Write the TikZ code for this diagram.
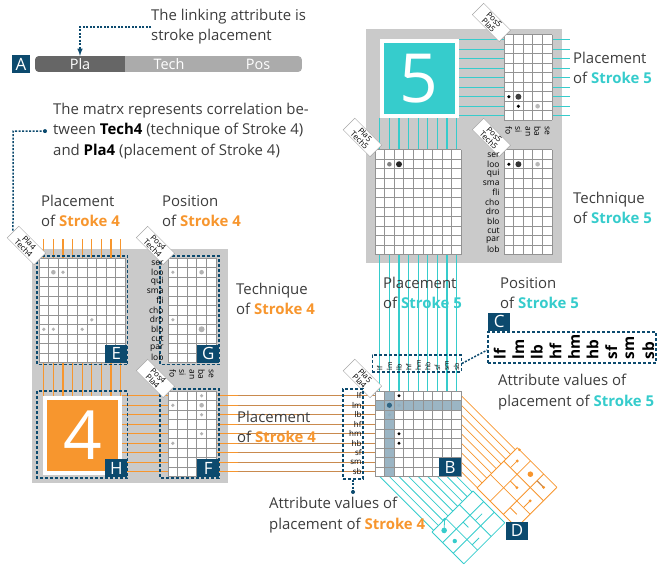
\documentclass[tikz,border=0pt]{standalone}
\usepackage{fontspec}
\setmainfont{Open Sans}
\usetikzlibrary{calc}

\definecolor{strokeorange}{HTML}{F7962E}
\definecolor{stroketeal}{HTML}{36CCCC}
\definecolor{labelnavy}{HTML}{0C4A6E}
\definecolor{panelgray}{HTML}{CACACA}
\definecolor{captiongray}{HTML}{3C3C3C}
\definecolor{linkbrown}{HTML}{C98A4E}
\definecolor{bandblue}{HTML}{9BB5C4}
\definecolor{bardark}{HTML}{666666}
\definecolor{barlight}{HTML}{ABABAB}

\def\cellw{9.6}
\def\cellh{9.5}
\def\techvals{ser,loo,qui,sma,fli,cho,dro,blo,cut,par,lob}
\def\posvals{fo,si,an,ba,se}
\def\plavals{lf,lm,lb,hf,hm,hb,sf,sm,sb}

\newcommand{\sfour}{\textcolor{strokeorange}{\textbf{Stroke 4}}}
\newcommand{\sfive}{\textcolor{stroketeal}{\textbf{Stroke 5}}}

% white cells, grid lines, one dot in a cell
\newcommand{\gridfill}[4]{\fill[white] (#1,#2) rectangle ++({#3*\cellw},{#4*\cellh});}
\newcommand{\gridlines}[4]{%
  \foreach \gi in {0,...,#3} \draw[gridline] ({#1+\gi*\cellw},#2) -- ++(0,{#4*\cellh});
  \foreach \gj in {0,...,#4} \draw[gridline] (#1,{#2+\gj*\cellh}) -- ++({#3*\cellw},0);}
\newcommand{\celldot}[6]{\fill[#5] ({#1+(#3-0.5)*\cellw},{#2+(#4-0.5)*\cellh}) circle[radius=#6bp];}

\begin{document}
\begin{tikzpicture}[x=1bp,y=-1bp,
    gridline/.style={draw=gray!85, line width=1bp},
    oline/.style={draw=strokeorange, line width=1.3bp},
    bline/.style={draw=linkbrown, line width=1bp},
    tline/.style={draw=stroketeal, line width=1.3bp},
    tagbox/.style={draw=gray!70, fill=white, rotate=-45, anchor=east, align=center,
      font=\fontsize{8}{8}\selectfont, inner sep=1.2bp, minimum width=38bp},
    letterbox/.style={fill=labelnavy, text=white, font=\fontsize{17}{17}\selectfont,
      minimum width=22bp, minimum height=18bp, inner sep=0pt},
    dbox/.style={draw=labelnavy, dash pattern=on 3bp off 2bp, line width=1.4bp, inner sep=0pt},
    leader/.style={draw=labelnavy, dash pattern=on 2bp off 1.5bp, line width=1.5bp},
    caption/.style={anchor=north west, align=left, text=captiongray, inner sep=0pt,
      font=\fontsize{15}{20.5}\selectfont},
    rowlbl/.style={anchor=east, inner sep=0.3bp, font=\fontsize{8.5}{8.5}\selectfont},
    collbl/.style={anchor=west, inner sep=0.3bp, font=\fontsize{8.5}{8.5}\selectfont},
    bartxt/.style={text=white, minimum height=16bp, inner sep=0pt, font=\fontsize{14.5}{14.5}\selectfont},
    bigdigit/.style={draw=white, line width=4bp, text=white, minimum size=75bp,
      font=\fontsize{68}{68}\selectfont}]
\useasboundingbox (0,0) rectangle (657,571);

% panels
\fill[panelgray] (32,249) rectangle (228,483);
\fill[panelgray] (366,29) rectangle (562,263);

% attribute bar
\begin{scope}
  \clip[rounded corners=4bp] (35,56) rectangle (302,72);
  \fill[barlight] (35,56) rectangle (302,72);
  \fill[bardark] (35,56) rectangle (125,72);
\end{scope}
\node[bartxt] (pla) at (80,64) {Pla};
\node[bartxt] (tech) at (169,64) {Tech};
\node[bartxt] (pos) at (258,64) {Pos};
\node[letterbox, minimum width=18bp] (labA) at (21,64) {A};

% links of stroke 4
\foreach \k in {0,...,8}{
  \pgfmathsetmacro{\xx}{39+(\k+0.5)*\cellw}
  \draw[oline] (\xx,239) -- (\xx,258);
  \draw[oline] (\xx,362) -- (\xx,397);
  \pgfmathsetmacro{\yy}{391+(\k+0.5)*\cellh}
  \draw[oline] (122,\yy) -- (168,\yy);
  \draw[oline] (216,\yy) -- (238,\yy);
  \draw[bline] (238,\yy) -- (375,\yy);
  \pgfmathsetmacro{\tlen}{(965-461.4-\yy)/2}
  \draw[strokeorange, line width=0.8bp] (461.4,\yy) -- ++(\tlen,\tlen);
}

% links of stroke 5
\foreach \k in {0,...,8}{
  \pgfmathsetmacro{\yy}{35+(\k+0.5)*\cellh}
  \draw[tline] (459,\yy) -- (570,\yy);
  \pgfmathsetmacro{\xx}{375+(\k+0.5)*\cellw}
  \draw[tline] (\xx,118) -- (\xx,150);
  \draw[tline] (\xx,254) -- (\xx,391);
  \pgfmathsetmacro{\tlen}{(964-476.5-\xx)/2}
  \draw[stroketeal, line width=0.8bp] (\xx,476.5) -- ++(\tlen,\tlen);
}

% D: projected grids
\begin{scope}[shift={(477,488)}, x={(0.7071bp,0.7071bp)}, y={(0.7071bp,-0.7071bp)}]
  \foreach \a in {0,19,38,57} \draw[strokeorange, line width=0.8bp] (\a,0) -- (\a,56);
  \foreach \b in {0,18.67,37.33,56} \draw[strokeorange, line width=0.8bp] (0,\b) -- (57,\b);
  \draw[strokeorange, line width=0.8bp] (47.5,9.3) -- (38,9.3) (28.5,28) -- (28.5,18.67)
    (9.5,46.7) -- (9.5,37.33) (28.5,46.7) -- (19,46.7);
  \draw[linkbrown, line width=1.2bp] (47.5,46.7) -- (47.5,37.33);
  \fill[strokeorange] (47.5,9.3) circle[radius=1.6bp] (47.5,28) circle[radius=2.8bp]
    (28.5,28) circle[radius=1.6bp] (47.5,46.7) circle[radius=1.6bp]
    (28.5,46.7) circle[radius=1.6bp] (57,3) circle[radius=1.4bp];
\end{scope}
\begin{scope}[shift={(432,532)}, x={(0.7071bp,0.7071bp)}, y={(0.7071bp,-0.7071bp)}]
  \foreach \a in {0,19.33,38.67,58} \draw[stroketeal, line width=0.8bp] (\a,0) -- (\a,45);
  \foreach \b in {0,15,30,45} \draw[stroketeal, line width=0.8bp] (0,\b) -- (58,\b);
  \draw[stroketeal, line width=0.8bp] (9.7,7.5) -- (17.7,0) (29,22.5) -- (29,15)
    (48.3,22.5) -- (38.67,22.5) (29,37.5) -- (19.33,37.5);
  \fill[stroketeal] (9.7,7.5) circle[radius=2.8bp] (9.7,22.5) circle[radius=2.2bp]
    (17.7,0) circle[radius=1.6bp];
\end{scope}
\node[letterbox] (labD) at (517,530.5) {D};

% stroke squares
\node[bigdigit, fill=stroketeal] (sq5) at (419,79) {5};
\node[bigdigit, fill=strokeorange] (sq4) at (82.5,435) {4};

% stroke 5 matrices
\gridfill{375}{150}{9}{11}
\gridlines{375}{150}{9}{11}
\celldot{375}{150}{2}{2}{gray}{2.3}
\celldot{375}{150}{3}{2}{black!85}{3}
\gridfill{504}{35}{5}{9}
\gridlines{504}{35}{5}{9}
\celldot{504}{35}{1}{7}{black}{1.7}
\celldot{504}{35}{2}{7}{black!75}{3}
\celldot{504}{35}{2}{8}{black}{1.7}
\celldot{504}{35}{4}{8}{gray!55}{2.3}
\gridfill{504}{150}{5}{11}
\gridlines{504}{150}{5}{11}
\celldot{504}{150}{1}{2}{black}{1.7}
\celldot{504}{150}{2}{2}{black!80}{3}
\celldot{504}{150}{4}{2}{gray!55}{2.3}

% stroke 4 matrices
\gridfill{39}{258}{9}{11}
\gridlines{39}{258}{9}{11}
\celldot{39}{258}{2}{2}{gray!60}{2.3}
\celldot{39}{258}{3}{2}{gray!60}{1.8}
\celldot{39}{258}{6}{7}{gray!60}{1.8}
\celldot{39}{258}{1}{8}{gray!60}{1.8}
\celldot{39}{258}{2}{8}{gray!60}{1.8}
\celldot{39}{258}{5}{8}{gray!60}{1.8}
\gridfill{168}{258}{5}{11}
\gridlines{168}{258}{5}{11}
\celldot{168}{258}{1}{2}{gray!60}{1.8}
\celldot{168}{258}{4}{2}{gray!60}{2.3}
\celldot{168}{258}{1}{7}{gray!60}{1.8}
\celldot{168}{258}{4}{8}{gray!60}{3}
\gridfill{168}{391}{5}{9}
\gridlines{168}{391}{5}{9}
\celldot{168}{391}{4}{1}{gray!60}{1.8}
\celldot{168}{391}{1}{2}{gray!60}{1.8}
\celldot{168}{391}{4}{2}{gray!60}{2.3}
\celldot{168}{391}{4}{3}{gray!60}{1.8}
\celldot{168}{391}{4}{5}{gray!60}{1.8}
\celldot{168}{391}{1}{6}{gray!60}{1.8}

% B: linking matrix
\gridfill{375}{391}{9}{9}
\fill[bandblue] (375,{391+\cellh}) rectangle ++({9*\cellw},\cellh);
\fill[bandblue] ({375+\cellw},391) rectangle ++(\cellw,{9*\cellh});
\gridlines{375}{391}{9}{9}
\celldot{375}{391}{3}{1}{black}{1.6}
\celldot{375}{391}{2}{2}{labelnavy!85}{2.6}
\celldot{375}{391}{3}{2}{labelnavy!45}{1.8}
\celldot{375}{391}{2}{3}{labelnavy!45}{1.8}
\celldot{375}{391}{3}{5}{black}{1.6}
\celldot{375}{391}{3}{6}{black}{1.6}
\node[letterbox, anchor=south east] (labB) at (461.4,476.5) {B};

% dashed boxes and their letters
\draw[dbox] (37,256) rectangle (127.5,364.5);
\draw[dbox] (160,256) rectangle (219,364.5);
\draw[dbox] (37,391) rectangle (127.5,478);
\draw[dbox] (160,389) rectangle (219,478);
\node[letterbox, anchor=south east] (labE) at (127.5,363) {E};
\node[letterbox, anchor=south east] (labG) at (219.5,363) {G};
\node[letterbox, anchor=south east] (labH) at (127.5,477.5) {H};
\node[letterbox, anchor=south east] (labF) at (219.5,477.5) {F};

% tags
\node[tagbox] (tagE) at (40,259) {Pla4\\Tech4};
\node[tagbox] (tagG) at (169,259) {Pos4\\Tech4};
\node[tagbox] (tagF) at (169,392) {Pos4\\Pla4};
\node[tagbox] (tagB) at (376,392) {Pla5\\Pla4};
\node[tagbox] (tag5a) at (376,151) {Pla5\\Tech5};
\node[tagbox] (tag5b) at (505,36) {Pos5\\Pla5};
\node[tagbox] (tag5c) at (505,151) {Pos5\\Tech5};

% value labels
\foreach \t [count=\i] in \techvals{
  \node[rowlbl] (g4r\i) at (164,{258+(\i-0.5)*\cellh}) {\t};
  \node[rowlbl] (m5r\i) at (500,{150+(\i-0.5)*\cellh}) {\t};
}
\foreach \t [count=\i] in \posvals{
  \node[collbl, rotate=-90] (f4c\i) at ({168+(\i-0.5)*\cellw},369) {\t};
  \node[collbl, rotate=-90] (m5c\i) at ({504+(\i-0.5)*\cellw},126) {\t};
}
\node[dbox, minimum width=20bp, minimum height=90bp] (plaRows) at (353,434) {};
\node[dbox, minimum width=89bp, minimum height=17bp] (plaCols) at (416.7,363.5) {};
\node[dbox, minimum width=168bp, minimum height=31bp] (valC) at (572,347.5) {};
\node[letterbox, anchor=south west] (labC) at (488,331) {C};
\foreach \t [count=\i] in \plavals{
  \node[rowlbl, font=\fontsize{8}{8}\selectfont] (br\i) at (362,{391+(\i-0.5)*\cellh}) {\t};
  \node[collbl, rotate=90, font=\fontsize{7}{7}\selectfont] (bc\i) at ({375+(\i-0.5)*\cellw},371) {\t};
  \node[collbl, rotate=90, font=\fontsize{15.5}{15.5}\selectfont\bfseries] (vc\i) at ({481+\i*18.6},360) {\t};
}

% captions
\node[caption] (noteA) at (151,9) {The linking attribute is\\stroke placement};
\node[caption] (noteM) at (53,103) {The matrx represents correlation be-\\tween \textcolor{black}{\textbf{Tech4}} (technique of Stroke 4)\\and \textcolor{black}{\textbf{Pla4}} (placement of Stroke 4)};
\node[caption] (capPla4) at (41,195) {Placement\\of \sfour};
\node[caption] (capPos4) at (162,195) {Position\\of \sfour};
\node[caption] (capTech4) at (236,283) {Technique\\of \sfour};
\node[caption] (capLink4) at (237,411) {Placement\\of \sfour};
\node[caption] (capVal4) at (269,497) {Attribute values of\\placement of \sfour};
\node[caption] (capPla5) at (573,52) {Placement\\of \sfive};
\node[caption] (capTech5) at (573,192) {Technique\\of \sfive};
\node[caption] (capLink5) at (383,277) {Placement\\of \sfive};
\node[caption] (capPos5) at (500,277) {Position\\of \sfive};
\node[caption] (capVal5) at (498,374) {Attribute values of\\placement of \sfive};

% leaders
\draw[leader, -latex] (noteA.west) -| (pla.north);
\coordinate (mdot) at ([xshift=-8bp]noteM.west);
\draw[leader] (mdot) -| (13,222) -- (tagE.west);
\fill[labelnavy] (mdot) circle[radius=2bp];
\coordinate (vdot) at (353,492);
\draw[leader] (plaRows.south) -- (vdot);
\fill[labelnavy] (vdot) circle[radius=2bp];
\draw[leader] (plaCols.east) -- ([yshift=-2.5bp]valC.west);
\end{tikzpicture}
\end{document}
